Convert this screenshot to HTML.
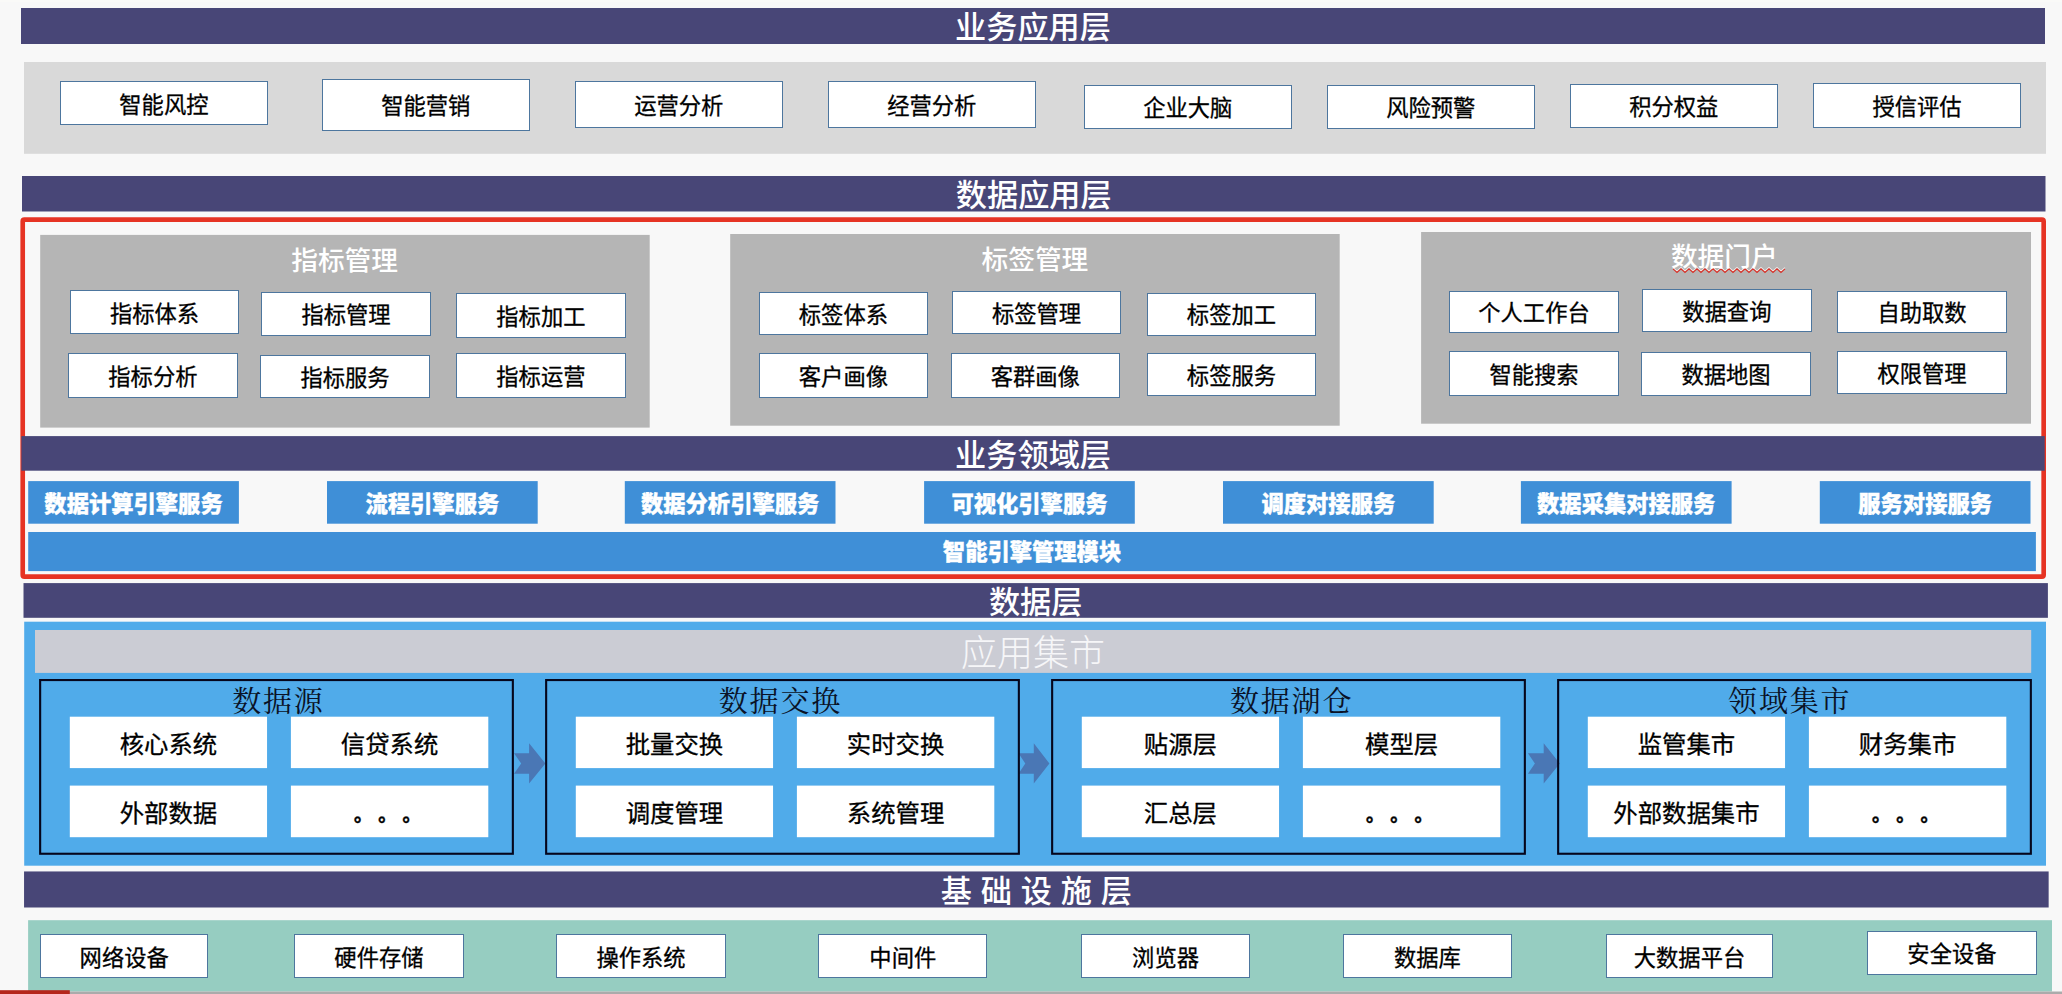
<!DOCTYPE html>
<html lang="zh-CN"><head><meta charset="utf-8"><title>架构图</title>
<style>
html,body{margin:0;padding:0;}
body{width:2062px;height:994px;position:relative;overflow:hidden;background:#f8f8f8;font-family:"Liberation Sans","Noto Sans CJK SC",sans-serif;text-spacing-trim:space-all;}
svg.bg{position:absolute;left:0;top:0;}
.t{position:absolute;box-sizing:border-box;display:flex;align-items:center;justify-content:center;white-space:pre;line-height:1;}
.hd{color:#fff;font-size:31.2px;font-weight:500;}
.wb{color:#000;font-size:22.3px;font-weight:400;-webkit-text-stroke:0.3px #000;}
.mt{color:#fff;font-size:26.7px;font-weight:500;}
.sv{color:#fff;font-size:22.3px;font-weight:900;-webkit-text-stroke:0.35px #fff;}
.gb{color:#f6f6f8;font-weight:300;font-size:36px;}
.gt{font-family:"Liberation Serif","Noto Serif CJK SC",serif;font-size:29px;letter-spacing:1.8px;color:#0a1226;font-weight:400;}
.db{color:#000;font-size:24.4px;font-weight:400;-webkit-text-stroke:0.3px #000;}
.dots{font-size:18.5px;font-weight:900;letter-spacing:5.8px;}
.dots span{display:inline-block;}
</style></head><body>
<svg class="bg" width="2062" height="994" viewBox="0 0 2062 994">
<rect x="0.00" y="0.00" width="2062.00" height="2.00" fill="#fafaf8"/>
<rect x="21.00" y="8.00" width="2024.00" height="36.00" fill="#484677"/>
<rect x="24.00" y="62.00" width="2022.00" height="91.80" fill="#d9d9d9"/>
<rect x="60.50" y="81.50" width="207.00" height="43.00" fill="#ffffff" stroke="#4d769e" stroke-width="1"/>
<rect x="322.50" y="79.50" width="207.00" height="51.00" fill="#ffffff" stroke="#4d769e" stroke-width="1"/>
<rect x="575.50" y="81.50" width="207.00" height="46.00" fill="#ffffff" stroke="#4d769e" stroke-width="1"/>
<rect x="828.50" y="81.50" width="207.00" height="46.00" fill="#ffffff" stroke="#4d769e" stroke-width="1"/>
<rect x="1084.50" y="85.50" width="207.00" height="43.00" fill="#ffffff" stroke="#4d769e" stroke-width="1"/>
<rect x="1327.50" y="85.50" width="207.00" height="43.00" fill="#ffffff" stroke="#4d769e" stroke-width="1"/>
<rect x="1570.50" y="84.50" width="207.00" height="43.00" fill="#ffffff" stroke="#4d769e" stroke-width="1"/>
<rect x="1813.50" y="83.50" width="207.00" height="44.00" fill="#ffffff" stroke="#4d769e" stroke-width="1"/>
<rect x="22.00" y="176.00" width="2023.50" height="35.50" fill="#484677"/>
<rect x="22.72" y="219.62" width="2020.95" height="357.05" fill="none" stroke="#e63323" stroke-width="4.65" rx="1.7"/>
<rect x="40.20" y="234.90" width="609.50" height="192.70" fill="#b5b5b5"/>
<rect x="70.50" y="290.50" width="168.00" height="43.00" fill="#ffffff" stroke="#4d769e" stroke-width="1"/>
<rect x="261.50" y="292.50" width="169.00" height="43.00" fill="#ffffff" stroke="#4d769e" stroke-width="1"/>
<rect x="456.50" y="293.50" width="169.00" height="44.00" fill="#ffffff" stroke="#4d769e" stroke-width="1"/>
<rect x="68.50" y="353.50" width="169.00" height="44.00" fill="#ffffff" stroke="#4d769e" stroke-width="1"/>
<rect x="260.50" y="355.50" width="169.00" height="42.00" fill="#ffffff" stroke="#4d769e" stroke-width="1"/>
<rect x="456.50" y="353.50" width="169.00" height="44.00" fill="#ffffff" stroke="#4d769e" stroke-width="1"/>
<rect x="730.20" y="234.00" width="609.50" height="191.70" fill="#b5b5b5"/>
<rect x="759.50" y="292.50" width="168.00" height="42.00" fill="#ffffff" stroke="#4d769e" stroke-width="1"/>
<rect x="952.50" y="291.50" width="168.00" height="42.00" fill="#ffffff" stroke="#4d769e" stroke-width="1"/>
<rect x="1147.50" y="293.50" width="168.00" height="42.00" fill="#ffffff" stroke="#4d769e" stroke-width="1"/>
<rect x="759.50" y="353.50" width="168.00" height="44.00" fill="#ffffff" stroke="#4d769e" stroke-width="1"/>
<rect x="951.50" y="353.50" width="168.00" height="44.00" fill="#ffffff" stroke="#4d769e" stroke-width="1"/>
<rect x="1147.50" y="353.50" width="168.00" height="42.00" fill="#ffffff" stroke="#4d769e" stroke-width="1"/>
<rect x="1421.10" y="232.00" width="609.90" height="191.70" fill="#b5b5b5"/>
<rect x="1449.50" y="291.50" width="169.00" height="41.00" fill="#ffffff" stroke="#4d769e" stroke-width="1"/>
<rect x="1642.50" y="289.50" width="169.00" height="42.00" fill="#ffffff" stroke="#4d769e" stroke-width="1"/>
<rect x="1837.50" y="291.50" width="169.00" height="41.00" fill="#ffffff" stroke="#4d769e" stroke-width="1"/>
<rect x="1449.50" y="351.50" width="169.00" height="44.00" fill="#ffffff" stroke="#4d769e" stroke-width="1"/>
<rect x="1641.50" y="352.50" width="169.00" height="43.00" fill="#ffffff" stroke="#4d769e" stroke-width="1"/>
<rect x="1837.50" y="351.50" width="169.00" height="42.00" fill="#ffffff" stroke="#4d769e" stroke-width="1"/>
<rect x="21.40" y="436.10" width="2023.30" height="34.60" fill="#484677"/>
<rect x="28.20" y="481.10" width="210.70" height="42.60" fill="#3f8fd7"/>
<rect x="327.00" y="481.10" width="210.70" height="42.60" fill="#3f8fd7"/>
<rect x="624.80" y="481.10" width="210.70" height="42.60" fill="#3f8fd7"/>
<rect x="924.10" y="481.10" width="210.70" height="42.60" fill="#3f8fd7"/>
<rect x="1223.00" y="481.10" width="210.70" height="42.60" fill="#3f8fd7"/>
<rect x="1520.90" y="481.10" width="210.70" height="42.60" fill="#3f8fd7"/>
<rect x="1819.80" y="481.10" width="210.70" height="42.60" fill="#3f8fd7"/>
<rect x="28.20" y="532.00" width="2007.70" height="39.10" fill="#3f8fd7"/>
<rect x="23.50" y="583.10" width="2024.40" height="34.70" fill="#484677"/>
<rect x="24.20" y="621.70" width="2021.80" height="244.00" fill="#50abea"/>
<rect x="35.00" y="630.00" width="1996.20" height="42.90" fill="#cbccd4"/>
<path d="M514.0 753.15 L529.1 753.15 L529.1 743.30 L545.4 763.40 L529.1 783.50 L529.1 773.65 L514.0 773.65 L521.2 763.40 Z" fill="#4a77b5"/>
<path d="M1018.5 753.15 L1033.8 753.15 L1033.8 743.30 L1049.4 763.40 L1033.8 783.50 L1033.8 773.65 L1018.5 773.65 L1025.3 763.40 Z" fill="#4a77b5"/>
<path d="M1527.9 753.15 L1543.7 753.15 L1543.7 743.30 L1559.8 763.40 L1543.7 783.50 L1543.7 773.65 L1527.9 773.65 L1534.9 763.40 Z" fill="#4a77b5"/>
<rect x="40.15" y="680.05" width="472.70" height="173.70" fill="none" stroke="#05061c" stroke-width="2.1"/>
<rect x="69.80" y="716.70" width="197.25" height="51.40" fill="#ffffff"/>
<rect x="290.90" y="716.70" width="197.40" height="51.40" fill="#ffffff"/>
<rect x="69.80" y="785.60" width="197.25" height="51.60" fill="#ffffff"/>
<rect x="290.90" y="785.60" width="197.40" height="51.60" fill="#ffffff"/>
<rect x="546.15" y="680.05" width="472.70" height="173.70" fill="none" stroke="#05061c" stroke-width="2.1"/>
<rect x="575.80" y="716.70" width="197.25" height="51.40" fill="#ffffff"/>
<rect x="796.90" y="716.70" width="197.40" height="51.40" fill="#ffffff"/>
<rect x="575.80" y="785.60" width="197.25" height="51.60" fill="#ffffff"/>
<rect x="796.90" y="785.60" width="197.40" height="51.60" fill="#ffffff"/>
<rect x="1052.15" y="680.05" width="472.70" height="173.70" fill="none" stroke="#05061c" stroke-width="2.1"/>
<rect x="1081.80" y="716.70" width="197.25" height="51.40" fill="#ffffff"/>
<rect x="1302.90" y="716.70" width="197.40" height="51.40" fill="#ffffff"/>
<rect x="1081.80" y="785.60" width="197.25" height="51.60" fill="#ffffff"/>
<rect x="1302.90" y="785.60" width="197.40" height="51.60" fill="#ffffff"/>
<rect x="1558.15" y="680.05" width="472.70" height="173.70" fill="none" stroke="#05061c" stroke-width="2.1"/>
<rect x="1587.80" y="716.70" width="197.25" height="51.40" fill="#ffffff"/>
<rect x="1808.90" y="716.70" width="197.40" height="51.40" fill="#ffffff"/>
<rect x="1587.80" y="785.60" width="197.25" height="51.60" fill="#ffffff"/>
<rect x="1808.90" y="785.60" width="197.40" height="51.60" fill="#ffffff"/>
<rect x="24.05" y="871.45" width="2024.60" height="36.05" fill="#484677"/>
<rect x="28.10" y="920.20" width="2023.90" height="71.30" fill="#96cdc1"/>
<rect x="0.00" y="991.50" width="2062.00" height="2.50" fill="#ababab"/>
<rect x="0.00" y="990.20" width="69.80" height="3.80" fill="#b5261b"/>
<rect x="40.50" y="934.50" width="167.00" height="43.00" fill="#ffffff" stroke="#4d769e" stroke-width="1"/>
<rect x="294.50" y="934.50" width="169.00" height="43.00" fill="#ffffff" stroke="#4d769e" stroke-width="1"/>
<rect x="556.50" y="934.50" width="169.00" height="43.00" fill="#ffffff" stroke="#4d769e" stroke-width="1"/>
<rect x="818.50" y="934.50" width="168.00" height="43.00" fill="#ffffff" stroke="#4d769e" stroke-width="1"/>
<rect x="1081.50" y="934.50" width="168.00" height="43.00" fill="#ffffff" stroke="#4d769e" stroke-width="1"/>
<rect x="1343.50" y="934.50" width="168.00" height="43.00" fill="#ffffff" stroke="#4d769e" stroke-width="1"/>
<rect x="1606.50" y="934.50" width="166.00" height="43.00" fill="#ffffff" stroke="#4d769e" stroke-width="1"/>
<rect x="1867.50" y="931.50" width="169.00" height="43.00" fill="#ffffff" stroke="#4d769e" stroke-width="1"/>
<path d="M1673.0 268.9 L1677.0 272.5 L1681.0 268.9 L1685.0 272.5 L1689.0 268.9 L1693.0 272.5 L1697.0 268.9 L1701.0 272.5 L1705.0 268.9 L1709.0 272.5 L1713.0 268.9 L1717.0 272.5 L1721.0 268.9 L1725.0 272.5 L1729.0 268.9 L1733.0 272.5 L1737.0 268.9 L1741.0 272.5 L1745.0 268.9 L1749.0 272.5 L1753.0 268.9 L1757.0 272.5 L1761.0 268.9 L1765.0 272.5 L1769.0 268.9 L1773.0 272.5 L1777.0 268.9 L1781.0 272.5 L1785.0 268.9" fill="none" stroke="#ffffff" stroke-opacity="0.75" stroke-width="1.2" transform="translate(0,-1.3)"/>
<path d="M1673.0 268.9 L1677.0 272.5 L1681.0 268.9 L1685.0 272.5 L1689.0 268.9 L1693.0 272.5 L1697.0 268.9 L1701.0 272.5 L1705.0 268.9 L1709.0 272.5 L1713.0 268.9 L1717.0 272.5 L1721.0 268.9 L1725.0 272.5 L1729.0 268.9 L1733.0 272.5 L1737.0 268.9 L1741.0 272.5 L1745.0 268.9 L1749.0 272.5 L1753.0 268.9 L1757.0 272.5 L1761.0 268.9 L1765.0 272.5 L1769.0 268.9 L1773.0 272.5 L1777.0 268.9 L1781.0 272.5 L1785.0 268.9" fill="none" stroke="#d8332a" stroke-width="1.25"/>
</svg>
<div class="t hd" style="left:21.00px;top:9.20px;width:2024.00px;height:36.00px;">业务应用层</div>
<div class="t wb" style="left:60.00px;top:83.90px;width:207.80px;height:44.10px;">智能风控</div>
<div class="t wb" style="left:322.00px;top:81.60px;width:207.50px;height:51.50px;">智能营销</div>
<div class="t wb" style="left:575.00px;top:83.60px;width:207.50px;height:46.50px;">运营分析</div>
<div class="t wb" style="left:828.00px;top:83.60px;width:207.60px;height:46.50px;">经营分析</div>
<div class="t wb" style="left:1084.00px;top:87.90px;width:207.50px;height:43.20px;">企业大脑</div>
<div class="t wb" style="left:1327.00px;top:87.90px;width:207.50px;height:43.20px;">风险预警</div>
<div class="t wb" style="left:1570.00px;top:86.10px;width:207.50px;height:44.00px;">积分权益</div>
<div class="t wb" style="left:1813.00px;top:85.80px;width:208.00px;height:44.40px;">授信评估</div>
<div class="t hd" style="left:22.00px;top:177.70px;width:2023.50px;height:35.50px;">数据应用层</div>
<div class="t mt" style="left:194.60px;top:246.30px;width:300.00px;height:30.00px;">指标管理</div>
<div class="t wb" style="left:70.00px;top:293.00px;width:169.00px;height:44.00px;">指标体系</div>
<div class="t wb" style="left:261.10px;top:295.00px;width:169.80px;height:43.20px;">指标管理</div>
<div class="t wb" style="left:455.80px;top:295.90px;width:170.20px;height:44.30px;">指标加工</div>
<div class="t wb" style="left:68.00px;top:355.90px;width:169.80px;height:44.20px;">指标分析</div>
<div class="t wb" style="left:260.30px;top:357.10px;width:169.40px;height:43.80px;">指标服务</div>
<div class="t wb" style="left:455.80px;top:355.90px;width:170.20px;height:44.20px;">指标运营</div>
<div class="t mt" style="left:884.90px;top:245.50px;width:300.00px;height:30.00px;">标签管理</div>
<div class="t wb" style="left:759.10px;top:294.30px;width:168.60px;height:43.50px;">标签体系</div>
<div class="t wb" style="left:952.20px;top:293.10px;width:168.60px;height:43.50px;">标签管理</div>
<div class="t wb" style="left:1147.00px;top:295.10px;width:168.90px;height:43.10px;">标签加工</div>
<div class="t wb" style="left:759.10px;top:355.90px;width:168.60px;height:44.20px;">客户画像</div>
<div class="t wb" style="left:951.00px;top:355.90px;width:168.60px;height:44.20px;">客群画像</div>
<div class="t wb" style="left:1147.00px;top:355.10px;width:168.90px;height:43.80px;">标签服务</div>
<div class="t mt" style="left:1574.30px;top:242.60px;width:300.00px;height:30.00px;">数据门户</div>
<div class="t wb" style="left:1449.30px;top:293.10px;width:169.40px;height:42.70px;">个人工作台</div>
<div class="t wb" style="left:1642.10px;top:291.10px;width:169.50px;height:43.90px;">数据查询</div>
<div class="t wb" style="left:1837.10px;top:293.10px;width:169.80px;height:42.70px;">自助取数</div>
<div class="t wb" style="left:1449.30px;top:353.90px;width:169.40px;height:44.20px;">智能搜索</div>
<div class="t wb" style="left:1641.40px;top:354.20px;width:169.20px;height:43.90px;">数据地图</div>
<div class="t wb" style="left:1837.10px;top:353.10px;width:169.80px;height:43.80px;">权限管理</div>
<div class="t hd" style="left:21.40px;top:437.90px;width:2023.30px;height:34.60px;">业务领域层</div>
<div class="t sv" style="left:28.20px;top:483.40px;width:210.70px;height:42.60px;">数据计算引擎服务</div>
<div class="t sv" style="left:327.00px;top:483.40px;width:210.70px;height:42.60px;">流程引擎服务</div>
<div class="t sv" style="left:624.80px;top:483.40px;width:210.70px;height:42.60px;">数据分析引擎服务</div>
<div class="t sv" style="left:924.10px;top:483.40px;width:210.70px;height:42.60px;">可视化引擎服务</div>
<div class="t sv" style="left:1223.00px;top:483.40px;width:210.70px;height:42.60px;">调度对接服务</div>
<div class="t sv" style="left:1520.90px;top:483.40px;width:210.70px;height:42.60px;">数据采集对接服务</div>
<div class="t sv" style="left:1819.80px;top:483.40px;width:210.70px;height:42.60px;">服务对接服务</div>
<div class="t sv" style="left:28.20px;top:533.90px;width:2007.70px;height:39.10px;">智能引擎管理模块</div>
<div class="t hd" style="left:23.50px;top:585.50px;width:2024.40px;height:34.70px;">数据层</div>
<div class="t gb" style="left:35.00px;top:632.30px;width:1996.20px;height:42.90px;">应用集市</div>
<div class="t gt" style="left:128.40px;top:687.50px;width:300.00px;height:30.00px;">数据源</div>
<div class="t db" style="left:69.80px;top:719.50px;width:197.25px;height:51.40px;">核心系统</div>
<div class="t db" style="left:290.90px;top:719.50px;width:197.40px;height:51.40px;">信贷系统</div>
<div class="t db" style="left:69.80px;top:788.40px;width:197.25px;height:51.60px;">外部数据</div>
<div class="t db dots" style="left:291.70px;top:789.10px;width:197.40px;height:51.60px;"><span>。</span><span>。</span><span>。</span></div>
<div class="t gt" style="left:630.40px;top:687.50px;width:300.00px;height:30.00px;">数据交换</div>
<div class="t db" style="left:575.80px;top:719.50px;width:197.25px;height:51.40px;">批量交换</div>
<div class="t db" style="left:796.90px;top:719.50px;width:197.40px;height:51.40px;">实时交换</div>
<div class="t db" style="left:575.80px;top:788.40px;width:197.25px;height:51.60px;">调度管理</div>
<div class="t db" style="left:796.90px;top:788.40px;width:197.40px;height:51.60px;">系统管理</div>
<div class="t gt" style="left:1141.60px;top:687.50px;width:300.00px;height:30.00px;">数据湖仓</div>
<div class="t db" style="left:1081.80px;top:719.50px;width:197.25px;height:51.40px;">贴源层</div>
<div class="t db" style="left:1302.90px;top:719.50px;width:197.40px;height:51.40px;">模型层</div>
<div class="t db" style="left:1081.80px;top:788.40px;width:197.25px;height:51.60px;">汇总层</div>
<div class="t db dots" style="left:1303.70px;top:789.10px;width:197.40px;height:51.60px;"><span>。</span><span>。</span><span>。</span></div>
<div class="t gt" style="left:1639.70px;top:687.50px;width:300.00px;height:30.00px;">领域集市</div>
<div class="t db" style="left:1587.80px;top:719.50px;width:197.25px;height:51.40px;">监管集市</div>
<div class="t db" style="left:1808.90px;top:719.50px;width:197.40px;height:51.40px;">财务集市</div>
<div class="t db" style="left:1587.80px;top:788.40px;width:197.25px;height:51.60px;">外部数据集市</div>
<div class="t db dots" style="left:1809.70px;top:789.10px;width:197.40px;height:51.60px;"><span>。</span><span>。</span><span>。</span></div>
<div class="t hd" style="left:24.05px;top:873.15px;width:2024.60px;height:36.05px;word-spacing:0.2px;">基 础 设 施 层</div>
<div class="t wb" style="left:40.25px;top:936.70px;width:167.95px;height:44.30px;">网络设备</div>
<div class="t wb" style="left:294.40px;top:936.80px;width:169.10px;height:44.10px;">硬件存储</div>
<div class="t wb" style="left:556.30px;top:936.80px;width:169.50px;height:44.10px;">操作系统</div>
<div class="t wb" style="left:818.30px;top:936.80px;width:169.00px;height:44.10px;">中间件</div>
<div class="t wb" style="left:1081.40px;top:936.80px;width:168.30px;height:44.10px;">浏览器</div>
<div class="t wb" style="left:1343.40px;top:936.80px;width:168.10px;height:44.10px;">数据库</div>
<div class="t wb" style="left:1605.60px;top:936.80px;width:167.80px;height:44.10px;">大数据平台</div>
<div class="t wb" style="left:1867.40px;top:934.00px;width:169.10px;height:43.20px;">安全设备</div>
</body></html>
